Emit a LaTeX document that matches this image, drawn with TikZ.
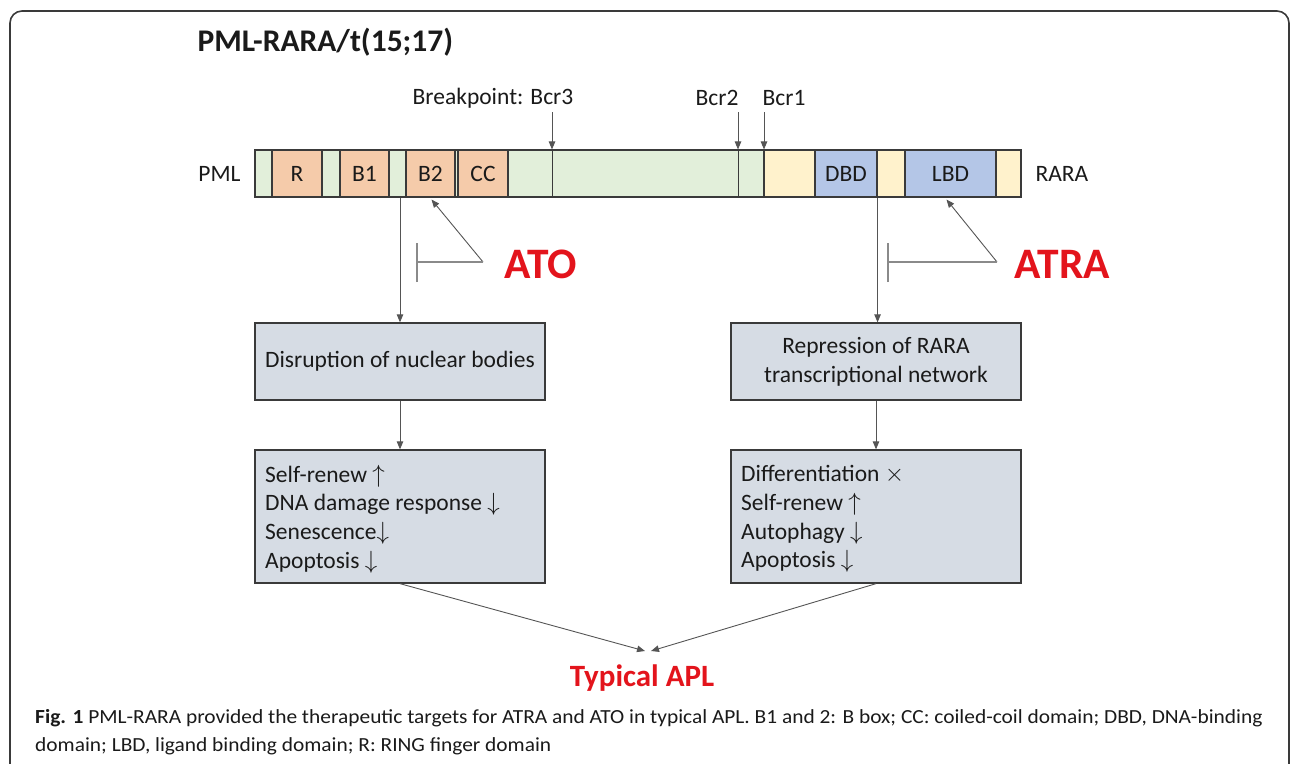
\documentclass[tikz,border=0pt]{standalone}
\usepackage{fontspec}
\setmainfont{Carlito}
\usetikzlibrary{arrows.meta}
\definecolor{pmlgreen}{HTML}{E2EFDA}
\definecolor{dompeach}{HTML}{F5CBAA}
\definecolor{raraylw}{HTML}{FFF2CC}
\definecolor{domblue}{HTML}{B4C6E7}
\definecolor{boxfill}{HTML}{D6DCE4}
\definecolor{linec}{HTML}{3A3A3A}
\definecolor{arrc}{HTML}{555555}
\definecolor{inhc}{HTML}{8A8A8A}
\definecolor{drugred}{HTML}{E3141C}
\definecolor{txt}{HTML}{1A1A1A}
% thin arrows and cross used in the effect lists
\newcommand{\upar}{{\fontsize{30}{30}\selectfont$\uparrow$}}
\newcommand{\dnar}{{\fontsize{30}{30}\selectfont$\downarrow$}}
\newcommand{\crossmk}{{\fontsize{30}{30}\selectfont$\times$}}
\begin{document}
\begin{tikzpicture}[x=1pt,y=-1pt,
  every node/.style={text=txt},
  bodyfont/.style={font=\fontsize{23.5}{28.7}\selectfont},
  seg/.style={draw=linec, line width=1.1pt, minimum height=47pt, inner sep=0pt, bodyfont},
  flowbox/.style={draw=linec, line width=1.3pt, fill=boxfill, inner sep=0pt, bodyfont},
  conn/.style={draw=arrc, line width=0.9pt, -{Triangle[length=8pt,width=6.5pt]}},
  inhib/.style={draw=inhc, line width=1.1pt},
  drug/.style={text=drugred, font=\fontsize{43.5}{44}\bfseries\selectfont},
  capfont/.style={font=\fontsize{20}{24}\selectfont},
  frame/.style={draw=linec, line width=1.6pt, rounded corners=12pt}]
\useasboundingbox (0,0) rectangle (1290,763);
\clip (0,0) rectangle (1290,763);

% outer panel frame
\draw[frame] (10,820) -- (10,11) -- (1289,11) -- (1289,820);

% title
\node[anchor=west, font=\fontsize{31.5}{33}\bfseries\selectfont] (title) at (194,42) {PML-RARA/t(15;17)};

% fusion protein bar: PML part
\node[seg, fill=pmlgreen, minimum width=17pt] (g1) at (263.5,173.5) {};
\node[seg, fill=dompeach, minimum width=50pt] (R)  at (297,173.5) {R};
\node[seg, fill=pmlgreen, minimum width=18pt] (g2) at (331,173.5) {};
\node[seg, fill=dompeach, minimum width=49pt] (B1) at (364.5,173.5) {B1};
\node[seg, fill=pmlgreen, minimum width=17pt] (g3) at (397.5,173.5) {};
\node[seg, fill=dompeach, minimum width=49pt] (B2) at (430.5,173.5) {B2};
\node[seg, fill=pmlgreen, minimum width=3pt] (g3b) at (456.5,173.5) {};
\node[seg, fill=dompeach, minimum width=50pt] (CC) at (483,173.5) {CC};
\node[seg, fill=pmlgreen, minimum width=256pt] (g4) at (636,173.5) {};
% RARA part
\node[seg, fill=raraylw, minimum width=51pt] (y1) at (789.5,173.5) {};
\node[seg, fill=domblue, minimum width=62pt] (DBD) at (846,173.5) {DBD};
\node[seg, fill=raraylw, minimum width=28pt] (y2) at (891,173.5) {};
\node[seg, fill=domblue, minimum width=91pt] (LBD) at (950.5,173.5) {LBD};
\node[seg, fill=raraylw, minimum width=25pt] (y3) at (1008.5,173.5) {};

% breakpoint marks inside the PML region
\draw[linec, line width=0.9pt] (552,150) -- (552,197);
\draw[linec, line width=0.9pt] (738,150) -- (738,197);

% side labels
\node[bodyfont, anchor=east] (pml) at (244,174) {PML};
\node[bodyfont, anchor=west] (rara) at (1032,174) {RARA};

% breakpoint labels and arrows
\node[bodyfont] (bcr3) at (493,98) {Breakpoint: Bcr3};
\node[bodyfont] (bcr2) at (717,98) {Bcr2};
\node[bodyfont] (bcr1) at (784,98) {Bcr1};
\coordinate (b3top) at (552,112);
\coordinate (b2top) at (738,112);
\coordinate (b1top) at (764,112);
\draw[conn] (b3top) -- (b3top |- g4.north);
\draw[conn] (b2top) -- (b2top |- g4.north);
\draw[conn] (b1top) -- (b1top |- y1.north);

% drugs
\node[drug, anchor=west] (ATO) at (501,264) {ATO};
\node[drug, anchor=west] (ATRA) at (1011,264) {ATRA};
\coordinate (atoapex) at (483,262);
\coordinate (atobar) at (417,262);
\coordinate (atraapex) at (997,262);
\coordinate (atrabar) at (888,262);
\draw[conn] (atoapex) -- ([xshift=1pt,yshift=-2pt]B2.south);
\draw[conn] (atraapex) -- ([xshift=-4pt,yshift=-2pt]LBD.south);
\draw[inhib] (atoapex) -- (atobar);
\draw[inhib] ([yshift=-20pt]atobar) -- ([yshift=19pt]atobar);
\draw[inhib] (atraapex) -- (atrabar);
\draw[inhib] ([yshift=-20pt]atrabar) -- ([yshift=19pt]atrabar);

% downstream boxes
\node[flowbox, minimum width=290pt, minimum height=77pt] (nb) at (400,361.5) {Disruption of nuclear bodies};
\node[flowbox, minimum width=290pt, minimum height=77pt, align=center] (rep) at (876,361.5) {Repression of RARA\\transcriptional network};
\node[flowbox, minimum width=290pt, minimum height=133pt] (eff1) at (400,516.5) {};
\node[flowbox, minimum width=290pt, minimum height=133pt] (eff2) at (876,516.5) {};
\node[bodyfont, anchor=west, align=left, inner sep=0pt] (eff1txt) at (265,519)
  {Self-renew \upar\\DNA damage response \dnar\\Senescence\dnar\\Apoptosis \dnar};
\node[bodyfont, anchor=west, align=left, inner sep=0pt] (eff2txt) at (741,519)
  {Differentiation \crossmk\\Self-renew \upar\\Autophagy \dnar\\Apoptosis \dnar};

% flow connectors
\draw[conn] (nb.north |- g3.south) -- (nb.north);
\draw[conn] (DBD.south east) -- (DBD.south east |- rep.north);
\draw[conn] (nb.south) -- (eff1.north);
\draw[conn] (rep.south) -- (eff2.north);

% outcome
\node[text=drugred, font=\fontsize{31}{31}\bfseries\selectfont] (apl) at (642,678) {Typical APL};
\coordinate (aplL) at (645,651);
\coordinate (aplR) at (651,651);
\draw[conn] (eff1.south) -- (aplL);
\draw[conn] (eff2.south) -- (aplR);

% caption
\node[anchor=west, inner sep=0pt, capfont] (cap1) at (35,718)
  {\scalebox{1.07}[1]{\textbf{Fig. 1} PML-RARA provided the therapeutic targets for ATRA and ATO in typical APL. B1 and 2: B box; CC: coiled-coil domain; DBD, DNA-binding}};
\node[anchor=west, inner sep=0pt, capfont] (cap2) at (35,746)
  {\scalebox{1.07}[1]{domain; LBD, ligand binding domain; R: RING finger domain}};
\end{tikzpicture}
\end{document}
